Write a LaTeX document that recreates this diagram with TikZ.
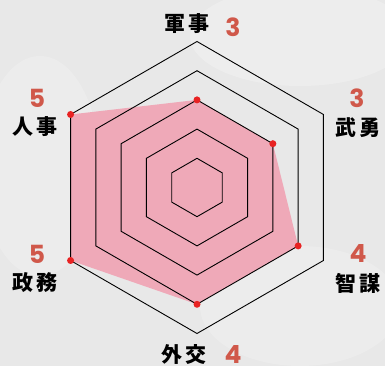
\documentclass[tikz,border=0pt]{standalone}
\usepackage{fontspec}
\usetikzlibrary{calc}
\newfontfamily\cjk{Noto Sans CJK JP}
\newfontfamily\numf{Poppins}
\definecolor{bgc}{HTML}{E8E8E8}
\definecolor{fillc}{HTML}{EFA9B8}
\definecolor{dotc}{HTML}{E82222}
\definecolor{numc}{HTML}{D0584A}
\tikzset{
  grid/.style={draw=black, line width=0.9pt, line join=miter},
  lbl/.style={font=\cjk\bfseries\fontsize{21}{21}\selectfont, text=black, inner sep=0pt},
  num/.style={font=\numf\bfseries\fontsize{25}{25}\selectfont, text=numc, inner sep=0pt},
  dot/.style={circle, fill=dotc, inner sep=0pt, minimum size=7pt},
}
\begin{document}
\begin{tikzpicture}[x=1pt,y=1pt]
\useasboundingbox (0,0) rectangle (385,366);
\fill[bgc] (0,0) rectangle (385,366);
\fill[white,opacity=0.25] (300,330) ellipse (110 and 50);
\fill[white,opacity=0.2] (40,200) ellipse (60 and 110);
\fill[white,opacity=0.2] (300,60) ellipse (100 and 60);
\coordinate (C) at (197,178.5);
% data polygon
\fill[fillc] ($(C)+(90:87.6)$) -- ($(C)+(30:87.6)$) -- ($(C)+(-30:116.8)$) -- ($(C)+(-90:116.8)$) -- ($(C)+(-150:146)$) -- ($(C)+(150:146)$) -- cycle;
% grid hexagons
\foreach \r in {29.2,58.4,87.6,116.8,146}{
  \draw[grid] ($(C)+(90:\r)$) -- ($(C)+(30:\r)$) -- ($(C)+(-30:\r)$) -- ($(C)+(-90:\r)$) -- ($(C)+(-150:\r)$) -- ($(C)+(150:\r)$) -- cycle;
}
% dots
\node[dot] (p1) at ($(C)+(90:87.6)$) {};
\node[dot] (p2) at ($(C)+(30:87.6)$) {};
\node[dot] (p3) at ($(C)+(-30:116.8)$) {};
\node[dot] (p4) at ($(C)+(-90:116.8)$) {};
\node[dot] (p5) at ($(C)+(-150:146)$) {};
\node[dot] (p6) at ($(C)+(150:146)$) {};
% labels
\node[lbl] (l1) at (187,342) {軍\,事};
\node[num] (n1) at (233,339) {3};
\node[lbl] (l2) at (358,238) {武\,勇};
\node[num] (n2) at (357,268) {3};
\node[lbl] (l3) at (358,83) {智\,謀};
\node[num] (n3) at (358,112) {4};
\node[lbl] (l4) at (184,11) {外\,交};
\node[num] (n4) at (233,11) {4};
\node[lbl] (l5) at (35,239) {人\,事};
\node[num] (n5) at (37,268) {5};
\node[lbl] (l6) at (35,83) {政\,務};
\node[num] (n6) at (37,112) {5};
\end{tikzpicture}
\end{document}
